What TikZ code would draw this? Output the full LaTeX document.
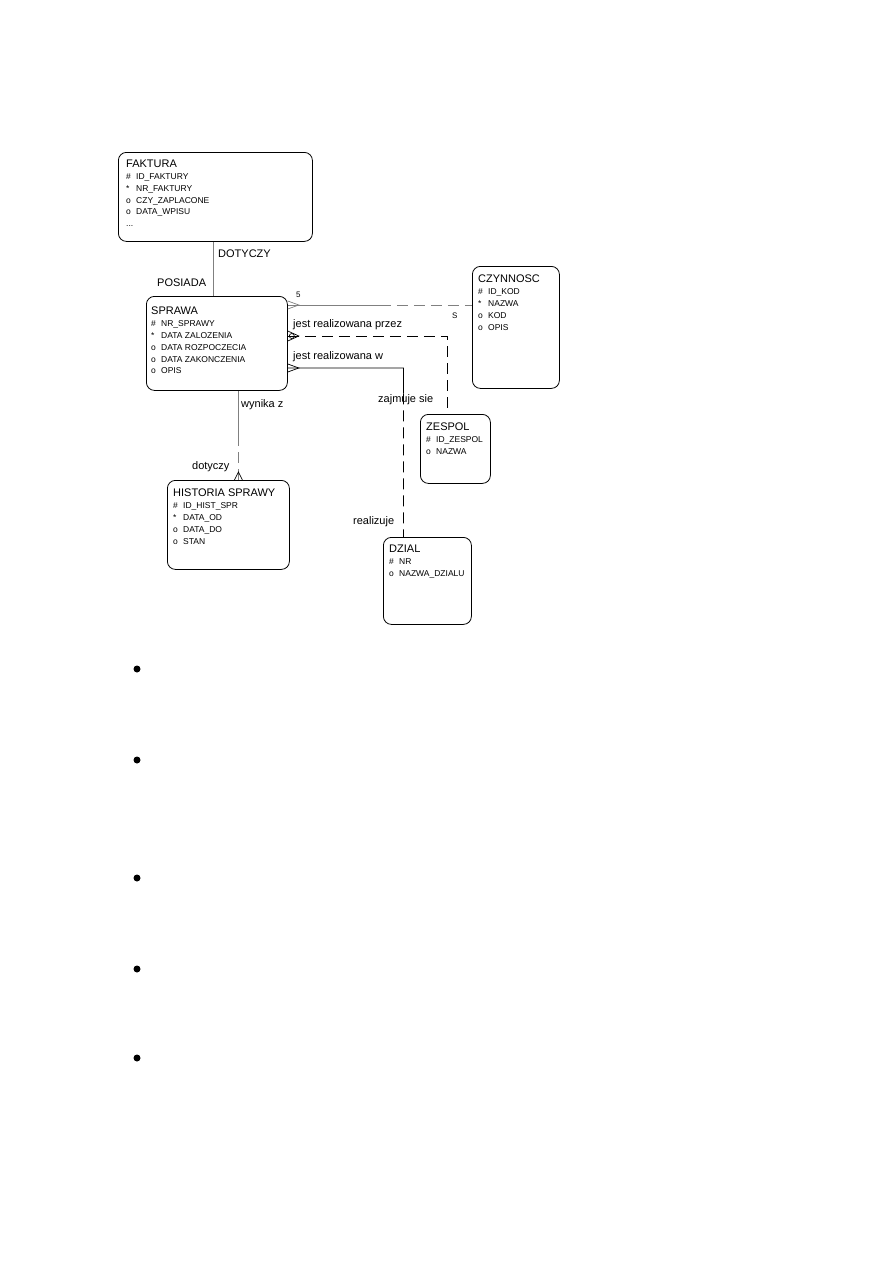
\documentclass[tikz,border=0pt]{standalone}
\usepackage{fontspec}
\setmainfont{Liberation Sans}
\usepackage{tikz}
\usetikzlibrary{positioning, calc}

\tikzset{
    entity/.style={draw, rounded corners=8pt, line width=0.8pt, inner sep=0pt, anchor=north west},
    attrs/.style={align=left, inner sep=0pt, font=\fontsize{8.5}{11.8}\selectfont},
    rel/.style={font=\fontsize{11}{13}\selectfont, inner sep=0pt, anchor=west},
    link/.style={line width=0.7pt},
    weak/.style={link, gray},
    longdash/.style={dash pattern=on 11pt off 6pt}
}
\newcommand{\att}[2]{\makebox[10pt][l]{#1}#2}
\newcommand{\ttl}[1]{{\fontsize{11}{11.8}\selectfont #1}}

\begin{document}
\begin{tikzpicture}[x=1pt, y=-1pt]
    \useasboundingbox (0,0) rectangle (893,1263);

    % Entities
    \node[entity, minimum width=194pt, minimum height=89pt] (faktura) at (118,152) {};
    \node[attrs, below right=8pt and 8pt of faktura.north west] (fakturaT)
        {\ttl{FAKTURA}\\ \att{\#}{ID\_FAKTURY}\\ \att{*}{NR\_FAKTURY}\\
         \att{o}{CZY\_ZAPLACONE}\\ \att{o}{DATA\_WPISU}\\ ...};

    \node[entity, minimum width=141pt, minimum height=94pt] (sprawa) at (146,296) {};
    \node[attrs, below right=11pt and 5pt of sprawa.north west] (sprawaT)
        {\ttl{SPRAWA}\\ \att{\#}{NR\_SPRAWY}\\ \att{*}{DATA ZALOZENIA}\\
         \att{o}{DATA ROZPOCZECIA}\\ \att{o}{DATA ZAKONCZENIA}\\ \att{o}{OPIS}};

    \node[entity, minimum width=87pt, minimum height=122pt] (czynnosc) at (472,266) {};
    \node[attrs, below right=9pt and 6pt of czynnosc.north west] (czynnoscT)
        {\ttl{CZYNNOSC}\\ \att{\#}{ID\_KOD}\\ \att{*}{NAZWA}\\ \att{o}{KOD}\\ \att{o}{OPIS}};

    \node[entity, minimum width=70pt, minimum height=69pt] (zespol) at (420,414) {};
    \node[attrs, below right=9pt and 6pt of zespol.north west] (zespolT)
        {\ttl{ZESPOL}\\ \att{\#}{ID\_ZESPOL}\\ \att{o}{NAZWA}};

    \node[entity, minimum width=122pt, minimum height=89pt] (historia) at (167,480) {};
    \node[attrs, below right=9pt and 6pt of historia.north west] (historiaT)
        {\ttl{HISTORIA SPRAWY}\\ \att{\#}{ID\_HIST\_SPR}\\ \att{*}{DATA\_OD}\\
         \att{o}{DATA\_DO}\\ \att{o}{STAN}};

    \node[entity, minimum width=88pt, minimum height=87pt] (dzial) at (383,537) {};
    \node[attrs, below right=8pt and 6pt of dzial.north west] (dzialT)
        {\ttl{DZIAL}\\ \att{\#}{NR}\\ \att{o}{NAZWA\_DZIALU}};

    % FAKTURA - SPRAWA
    \draw[weak] ([xshift=-2pt]faktura.south) -- ([xshift=-2pt]faktura.south |- sprawa.north);
    \node[rel] (lDotyczy) at (218,254) {DOTYCZY};
    \node[rel] (lPosiada) at (157,283) {POSIADA};

    % SPRAWA - CZYNNOSC
    \coordinate (sc) at ([yshift=-9pt]sprawa.north east);
    \coordinate (cs) at (czynnosc.west |- sc);
    \draw[weak] (sc) -- ($(sc)!.5!(cs)$);
    \draw[weak, longdash] ($(sc)!.5!(cs)$) -- (cs);
    \draw[weak] ([yshift=4pt]sc) -- ([xshift=11pt]sc) -- ([yshift=-4pt]sc);
    \node[rel, font=\fontsize{8}{9}\selectfont] (lS1) at (296,295) {5};
    \node[rel, font=\fontsize{8}{9}\selectfont] (lS2) at (452,316) {S};

    % SPRAWA - ZESPOL
    \coordinate (sz) at ([yshift=-40pt]sprawa.north east);
    \draw[link, longdash] (sz) -| ([xshift=-8pt]zespol.north);
    \draw[link] ([yshift=5pt]sz) -- ([xshift=11pt]sz) -- ([yshift=-5pt]sz);
    \draw[link] ([xshift=4pt]sz) circle (2.5pt);
    \node[rel] (lPrzez) at (293,325) {jest realizowana przez};
    \node[rel] (lZajmuje) at (378,400) {zajmuje sie};

    % SPRAWA - DZIAL
    \coordinate (sd) at ([yshift=-72pt]sprawa.north east);
    \coordinate (dt) at ([xshift=-24pt]dzial.north);
    \coordinate (dk) at (sd -| dt);
    \draw[link] (sd) -- (dk) -- ($(dk)!.15!(dt)$);
    \draw[link, longdash] ($(dk)!.15!(dt)$) -- (dt);
    \draw[link] ([yshift=4pt]sd) -- ([xshift=11pt]sd) -- ([yshift=-4pt]sd);
    \node[rel] (lW) at (293,357) {jest realizowana w};
    \node[rel] (lRealizuje) at (353,522) {realizuje};

    % SPRAWA - HISTORIA SPRAWY
    \coordinate (ht) at ([xshift=10pt]historia.north);
    \coordinate (hs) at (sprawa.south -| ht);
    \draw[weak] (hs) -- ($(hs)!.5!(ht)$);
    \draw[weak, longdash] ($(hs)!.5!(ht)$) -- (ht);
    \draw[link] ([xshift=-4pt]ht) -- ([yshift=8pt]ht) -- ([xshift=4pt]ht);
    \node[rel] (lWynika) at (241,405) {wynika z};
    \node[rel] (lDotyczy2) at (192,467) {dotyczy};

    % Bullets
    \foreach \y in {669,760,878,969,1058}
        \fill (137,\y) circle (3.5pt);
\end{tikzpicture}
\end{document}
